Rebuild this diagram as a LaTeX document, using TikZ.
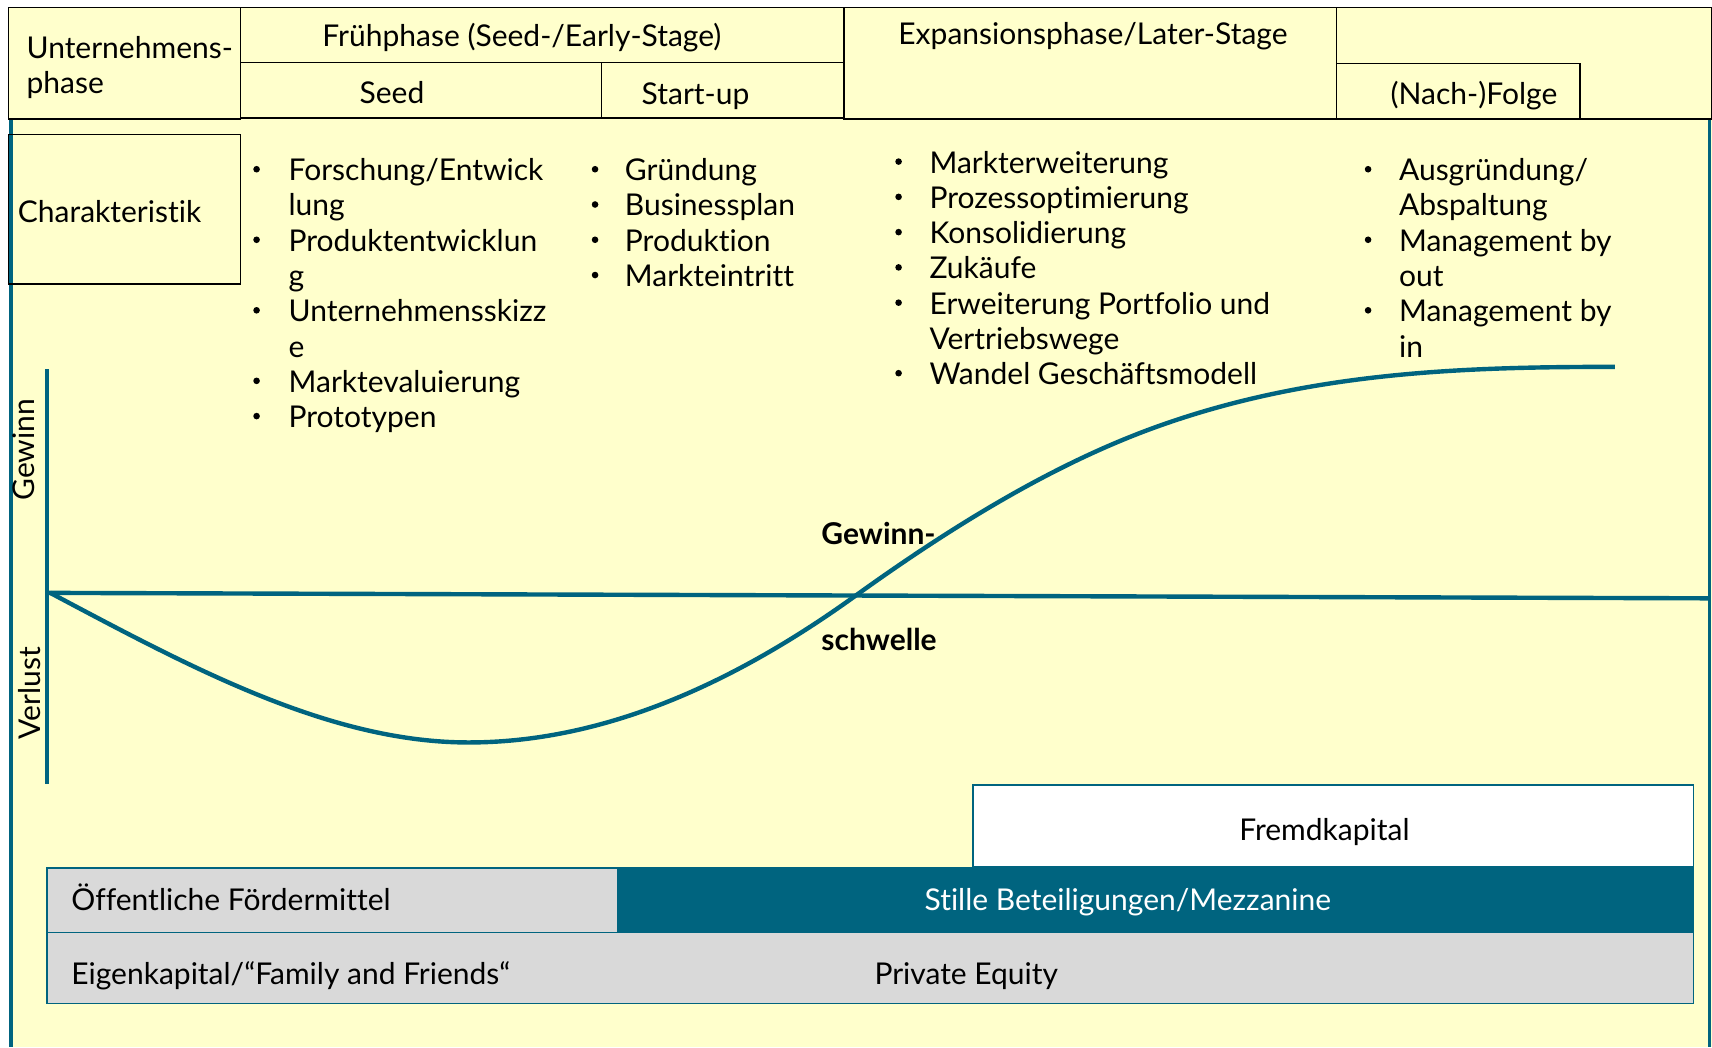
\documentclass[tikz,border=0pt]{standalone}
\usepackage{fontspec}
\setmainfont{Lato}[Ligatures=NoCommon]
\definecolor{tealc}{RGB}{0,100,127}
\definecolor{ylw}{RGB}{255,255,204}
\definecolor{gry}{RGB}{217,217,217}
\tikzset{
  hdr/.style={draw=black, line width=0.7pt},
  txt/.style={inner sep=0pt, anchor=base west, font=\fontsize{15}{18}\selectfont},
  ctxt/.style={inner sep=0pt, anchor=base, font=\fontsize{15}{18}\selectfont},
  btxt/.style={inner sep=0pt, anchor=base west, font=\fontsize{15}{18}\selectfont\bfseries},
  dot/.style={circle, fill=black, inner sep=0pt, minimum size=3.3pt},
  tline/.style={draw=tealc, line width=2.2pt},
  bar/.style={draw=tealc, line width=0.7pt},
}
\begin{document}
\begin{tikzpicture}[x=0.5459pt,y=-0.5459pt]
\useasboundingbox (0,0) rectangle (1568,959);
\fill[ylw] (8,7) rectangle (1568,959);
% body side borders
\draw[draw=tealc, line width=1.6pt] (10,109) -- (10,959);
\draw[draw=tealc, line width=1.6pt] (1566,109) -- (1566,959);
% header boxes
\draw[hdr] (8,7) rectangle (220,109);
\draw[hdr] (220,7) rectangle (773,57);
\draw[hdr] (220,57) rectangle (551,108);
\draw[hdr] (551,57) rectangle (773,108);
\draw[hdr] (773,7) rectangle (1224,109);
\draw[hdr] (1224,7) rectangle (1568,109);
\draw[hdr] (1224,58) rectangle (1447,109);
\draw[hdr] (8,123) rectangle (220,260);
% header texts
\node[txt] (uph1) at (24,53.5) {Unternehmens-};
\node[txt] (uph2) at (24,85.5) {phase};
\node[ctxt] (frueh) at (478,42.5) {Frühphase (Seed-/Early-Stage)};
\node[ctxt] (seed) at (359,94.5) {Seed};
\node[ctxt] (start) at (637,95.5) {Start-up};
\node[ctxt] (exp) at (1001,40.5) {Expansionsphase/Later-Stage};
\node[ctxt] (nach) at (1350,95.5) {(Nach-)Folge};
\node[txt] (chara) at (16,203.5) {Charakteristik};
% column 1
\node[dot] (b11) at (235,155) {};
\node[txt] (c11) at (264,165.5) {Forschung/Entwick};
\node[txt] (c12) at (264,{165.5+32.3*1}) {lung};
\node[dot] (b12) at (235,{155+32.3*2}) {};
\node[txt] (c13) at (264,{165.5+32.3*2}) {Produktentwicklun};
\node[txt] (c14) at (264,{165.5+32.3*3}) {g};
\node[dot] (b13) at (235,{155+32.3*4}) {};
\node[txt] (c15) at (264,{165.5+32.3*4}) {Unternehmensskizz};
\node[txt] (c16) at (264,{165.5+32.3*5}) {e};
\node[dot] (b14) at (235,{155+32.3*6}) {};
\node[txt] (c17) at (264,{165.5+32.3*6}) {Marktevaluierung};
\node[dot] (b15) at (235,{155+32.3*7}) {};
\node[txt] (c18) at (264,{165.5+32.3*7}) {Prototypen};
% column 2
\node[dot] (b21) at (545,155) {};
\node[txt] (c21) at (572,165.5) {Gründung};
\node[dot] (b22) at (545,{155+32.3*1}) {};
\node[txt] (c22) at (572,{165.5+32.3*1}) {Businessplan};
\node[dot] (b23) at (545,{155+32.3*2}) {};
\node[txt] (c23) at (572,{165.5+32.3*2}) {Produktion};
\node[dot] (b24) at (545,{155+32.3*3}) {};
\node[txt] (c24) at (572,{165.5+32.3*3}) {Markteintritt};
% column 3
\node[dot] (b31) at (823,148) {};
\node[txt] (c31) at (851,158.5) {Markterweiterung};
\node[dot] (b32) at (823,{148+32.3*1}) {};
\node[txt] (c32) at (851,{158.5+32.3*1}) {Prozessoptimierung};
\node[dot] (b33) at (823,{148+32.3*2}) {};
\node[txt] (c33) at (851,{158.5+32.3*2}) {Konsolidierung};
\node[dot] (b34) at (823,{148+32.3*3}) {};
\node[txt] (c34) at (851,{158.5+32.3*3}) {Zukäufe};
\node[dot] (b35) at (823,{148+32.3*4}) {};
\node[txt] (c35) at (851,{158.5+32.3*4}) {Erweiterung Portfolio und};
\node[txt] (c36) at (851,{158.5+32.3*5}) {Vertriebswege};
\node[dot] (b36) at (823,{148+32.3*6}) {};
\node[txt] (c37) at (851,{158.5+32.3*6}) {Wandel Geschäftsmodell};
% column 4
\node[dot] (b41) at (1253,155) {};
\node[txt] (c41) at (1281,165.5) {Ausgründung/};
\node[txt] (c42) at (1281,{165.5+32.3*1}) {Abspaltung};
\node[dot] (b42) at (1253,{155+32.3*2}) {};
\node[txt] (c43) at (1281,{165.5+32.3*2}) {Management by};
\node[txt] (c44) at (1281,{165.5+32.3*3}) {out};
\node[dot] (b43) at (1253,{155+32.3*4}) {};
\node[txt] (c45) at (1281,{165.5+32.3*4}) {Management by};
\node[txt] (c46) at (1281,{165.5+32.3*5}) {in};
% axes and curve
\coordinate (ytop) at (43,338);
\coordinate (ybot) at (43,718);
\coordinate (orig) at (43,543);
\coordinate (xend) at (1566,548);
\draw[tline] (ytop) -- (ybot);
\draw[tline] (orig) -- (xend);
\coordinate (c0) at (46,543);
\coordinate (cmin) at (429,680);
\coordinate (cx) at (783,546);
\coordinate (cm) at (1059,391);
\coordinate (cend) at (1479,336);
\draw[tline] (c0) .. controls (173.7,610.7) and (301.3,680) .. (cmin)
  .. controls (547,680) and (665,631) .. (cx)
  .. controls (875,479.8) and (967,424.1) .. (cm)
  .. controls (1199,340.6) and (1339,336) .. (cend);
\node[ctxt, rotate=90] (gew) at (32,412) {Gewinn};
\node[ctxt, rotate=90] (verl) at (37,635) {Verlust};
\node[btxt] (gs1) at (752,498.5) {Gewinn-};
\node[btxt] (gs2) at (752,595.5) {schwelle};
% financing bars
\filldraw[bar, fill=white] (891,719) rectangle (1551,794);
\filldraw[bar, fill=gry] (43,854) rectangle (1551,919);
\filldraw[bar, fill=gry] (43,795) rectangle (566,854);
\filldraw[bar, fill=tealc] (566,795) rectangle (1551,854);
\node[ctxt] (fremd) at (1213,769.5) {Fremdkapital};
\node[txt] (oeff) at (65,833.5) {Öffentliche Fördermittel};
\node[ctxt, text=white] (still) at (1033,833.5) {Stille Beteiligungen/Mezzanine};
\node[txt] (eigen) at (65,901.5) {Eigenkapital/“Family and Friends“};
\node[ctxt] (pe) at (885,901.5) {Private Equity};
\end{tikzpicture}
\end{document}
